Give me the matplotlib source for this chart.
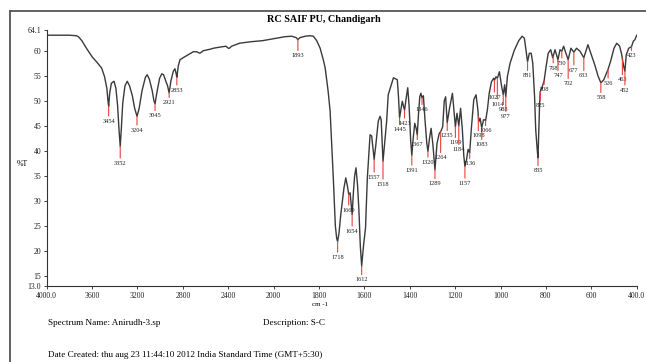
import numpy as np
import matplotlib
matplotlib.use("Agg")
import matplotlib.pyplot as plt
from matplotlib.lines import Line2D

# ---- data -------------------------------------------------------------
wavenumber = [4000, 3900, 3800, 3740, 3720, 3690, 3650, 3600, 3550, 3515, 3490, 3470, 3460, 3454,
              3445, 3430, 3407, 3390, 3375, 3362, 3352, 3342, 3330, 3310, 3290, 3270, 3245, 3225,
              3204, 3185, 3160, 3130, 3114, 3095, 3070, 3055, 3045, 3030, 3005, 2985, 2970, 2950,
              2935, 2921, 2905, 2884, 2870, 2860, 2853, 2840, 2825, 2790, 2752, 2708, 2680, 2650,
              2620, 2560, 2530, 2480, 2420, 2400, 2390, 2370, 2300, 2200, 2100, 2000, 1950, 1920,
              1900, 1893, 1885, 1860, 1840, 1825, 1810, 1795, 1780, 1773, 1760, 1751, 1737, 1728,
              1722, 1718, 1712, 1704, 1690, 1682, 1675, 1669, 1663, 1654, 1648, 1643, 1637, 1630,
              1624, 1618, 1612, 1604, 1595, 1587, 1575, 1568, 1562, 1557, 1550, 1539, 1531, 1526,
              1522, 1518, 1510, 1502, 1495, 1472, 1455, 1450, 1445, 1438, 1433, 1428, 1423, 1416,
              1409, 1403, 1396, 1391, 1385, 1378, 1372, 1367, 1362, 1356, 1351, 1346, 1340, 1333,
              1325, 1320, 1313, 1306, 1298, 1289, 1280, 1270, 1264, 1255, 1248, 1242, 1235, 1225,
              1212, 1205, 1199, 1192, 1184, 1176, 1168, 1162, 1157, 1150, 1143, 1136, 1128, 1118,
              1108, 1100, 1096, 1090, 1083, 1075, 1068, 1066, 1058, 1050, 1040, 1030, 1027, 1020,
              1014, 1005, 995, 988, 982, 977, 970, 958, 940, 920, 905, 895, 888, 881, 873, 865,
              858, 850, 845, 838, 835, 831, 828, 825, 815, 808, 800, 790, 779, 770, 760, 747, 738,
              730, 722, 712, 702, 690, 677, 665, 650, 633, 615, 600, 585, 570, 558, 545, 526, 515,
              500, 488, 475, 466, 458, 452, 446, 435, 423, 415, 408, 400]
transmittance = [63.1, 63.1, 63.1, 63.0, 62.8, 62.0, 60.5, 58.8, 57.5, 56.5, 54.8, 52.5, 50.0, 48.9,
                 51.5, 53.5, 53.9, 52.5, 49.0, 44.0, 40.9, 44.5, 49.5, 53.0, 53.9, 53.0, 51.0, 48.5,
                 46.9, 48.5, 52.0, 54.7, 55.2, 54.3, 52.0, 50.0, 49.4, 51.5, 54.5, 55.4, 55.2, 53.9,
                 53.0, 51.6, 54.0, 55.9, 56.4, 55.5, 54.7, 57.0, 58.2, 58.7, 59.2, 59.8, 59.8, 59.5,
                 60.0, 60.3, 60.5, 60.7, 60.9, 60.5, 60.5, 60.9, 61.5, 61.8, 62.0, 62.4, 62.8, 62.9,
                 62.6, 62.2, 62.6, 62.9, 63.0, 62.9, 62.0, 60.5, 58.0, 56.6, 52.0, 47.9, 34.6, 25.0,
                 22.5, 21.9, 23.5, 27.3, 32.6, 34.6, 33.0, 31.3, 31.6, 27.3, 32.0, 35.0, 36.6, 33.0,
                 28.0, 21.0, 17.0, 21.0, 24.6, 34.6, 43.2, 43.0, 40.5, 38.3, 41.0, 45.9, 46.9, 46.2,
                 42.0, 37.9, 42.0, 45.9, 51.2, 54.6, 54.2, 51.0, 46.6, 48.5, 49.9, 49.0, 48.1, 50.5,
                 52.6, 49.0, 42.0, 39.1, 42.5, 45.5, 44.5, 43.2, 47.0, 50.8, 51.5, 50.6, 51.0, 46.2,
                 41.5, 39.9, 42.5, 44.5, 41.2, 36.2, 41.5, 43.5, 43.8, 44.8, 50.0, 50.8, 45.6, 48.5,
                 51.5, 48.0, 44.8, 47.5, 45.0, 48.5, 44.0, 39.0, 36.9, 38.2, 40.3, 39.6, 44.8, 50.2,
                 51.2, 48.2, 45.8, 46.5, 44.6, 46.2, 46.2, 46.0, 48.2, 51.5, 53.8, 54.5, 54.1, 54.8,
                 54.5, 55.8, 52.8, 51.2, 53.2, 50.8, 54.8, 57.5, 60.0, 62.0, 62.9, 62.5, 60.1, 57.8,
                 59.5, 59.5, 57.5, 50.8, 44.2, 40.0, 38.6, 44.6, 49.2, 51.8, 53.0, 54.0, 56.6, 59.5,
                 60.2, 58.6, 60.2, 58.2, 60.2, 59.9, 60.9, 59.5, 58.2, 60.5, 59.7, 60.5, 59.9, 58.6,
                 61.2, 59.2, 57.2, 54.9, 53.6, 54.2, 56.3, 57.9, 60.5, 61.5, 60.9, 59.2, 57.0, 55.9,
                 59.2, 60.5, 60.8, 61.9, 62.2, 63.1]

peak_wavenumbers = [3454, 3352, 3204, 3045, 2921, 2853, 1893, 1718, 1669, 1654, 1612, 1557, 1518,
                    1445, 1423, 1391, 1367, 1346, 1320, 1289, 1264, 1235, 1199, 1184, 1157, 1136,
                    1098, 1083, 1066, 1027, 1014, 988, 977, 881, 835, 825, 808, 768, 747, 730,
                    702, 677, 633, 558, 526, 463, 452, 423]
peak_labels = [str(p) for p in peak_wavenumbers]
# label drop below curve (pixels)
label_drop_px = [15, 17, 14, 12, 10, 13, 16, 16, 16, 17, 14, 18, 23,
                 12, 13, 15, 10, 12, 11, 14, 26, 13, 16, 24, 17, 11,
                 20, 17, 10, 17, 26, 15, 20, 14, 13, 14, 9, 12, 16, 12,
                 24, 18, 18, 15, 14, 21, 19, 9]

x_ticks = [4000, 3600, 3200, 2800, 2400, 2000, 1800, 1600, 1400, 1200, 1000, 800, 600, 400]
x_ticklabels = ["4000.0", "3600", "3200", "2800", "2400", "2000", "1800", "1600", "1400",
                "1200", "1000", "800", "600", "400.0"]
y_ticks = [13.0, 15, 20, 25, 30, 35, 40, 45, 50, 55, 60, 64.1]
y_ticklabels = ["13.0", "15", "20", "25", "30", "35", "40", "45", "50", "55", "60", "64.1"]

# ---- figure -----------------------------------------------------------
W, H, DPI = 646, 362, 100
fig = plt.figure(figsize=(W / DPI, H / DPI), dpi=DPI)
SERIF = ["Liberation Serif", "DejaVu Serif"]


def fx(px):
    return px / W


def fy(py):
    return 1 - py / H


ax = fig.add_axes([fx(46.7), fy(286), fx(636.7) - fx(46.7), fy(30.2) - fy(286)])


def fwd(x):
    x = np.asarray(x, dtype=float)
    return np.where(x > 2000, 2000 + (x - 2000) / 2.0, x)


def inv(u):
    u = np.asarray(u, dtype=float)
    return np.where(u > 2000, 2000 + 2.0 * (u - 2000), u)


ax.set_xscale("function", functions=(fwd, inv))
ax.plot(wavenumber, transmittance, color="#3a3a3a", lw=1.0, solid_joinstyle="round")
ax.set_xlim(4000, 400)
ax.set_ylim(13.0, 64.1)

ax.set_xticks(x_ticks)
ax.set_xticklabels(x_ticklabels)
ax.set_yticks(y_ticks)
ax.set_yticklabels(y_ticklabels)
ax.xaxis.set_minor_locator(matplotlib.ticker.NullLocator())
ax.tick_params(axis="both", direction="out", length=2, width=0.6, labelsize=5.6, pad=2,
               colors="#222222")
for lbl in ax.get_xticklabels() + ax.get_yticklabels():
    lbl.set_family(SERIF)
for s in ["top", "right"]:
    ax.spines[s].set_visible(False)
for s in ["left", "bottom"]:
    ax.spines[s].set_linewidth(0.8)
    ax.spines[s].set_color("#333333")

# peak annotations
wn_rev = np.array(wavenumber[::-1], dtype=float)
t_rev = np.array(transmittance[::-1], dtype=float)
for wn, lab, drop in zip(peak_wavenumbers, peak_labels, label_drop_px):
    t = float(np.interp(wn, wn_rev, t_rev))
    ax.annotate(lab, xy=(wn, t), xytext=(0, -drop * 0.72), textcoords="offset points",
                ha="center", va="center", fontsize=4.6, family=SERIF, color="#222222",
                arrowprops=dict(arrowstyle="-", color="#e8413a", lw=0.8, shrinkA=0, shrinkB=0))

# texts
fig.text(fx(324), fy(20), "RC SAIF PU, Chandigarh", ha="center", va="center",
         fontsize=7.3, fontweight="bold", family=SERIF)
fig.text(fx(22), fy(164), "%T", ha="center", va="center", fontsize=5.6, family=SERIF)
fig.text(fx(320), fy(305), "cm -1", ha="center", va="center", fontsize=5.0, family=SERIF)
fig.text(fx(48), fy(323), "Spectrum Name: Anirudh-3.sp", ha="left", va="center",
         fontsize=6.6, family=SERIF)
fig.text(fx(263), fy(323), "Description: S-C", ha="left", va="center",
         fontsize=6.6, family=SERIF)
fig.text(fx(48), fy(355), "Date Created: thu aug 23 11:44:10 2012 India Standard Time (GMT+5:30)",
         ha="left", va="center", fontsize=6.6, family=SERIF)

# outer frame
fig.add_artist(Line2D([fx(10), fx(646)], [fy(11), fy(11)], transform=fig.transFigure,
                      color="#555555", lw=1.3))
fig.add_artist(Line2D([fx(10), fx(10)], [fy(11), fy(362)], transform=fig.transFigure,
                      color="#555555", lw=1.3))

fig.savefig("out.png", dpi=DPI)
